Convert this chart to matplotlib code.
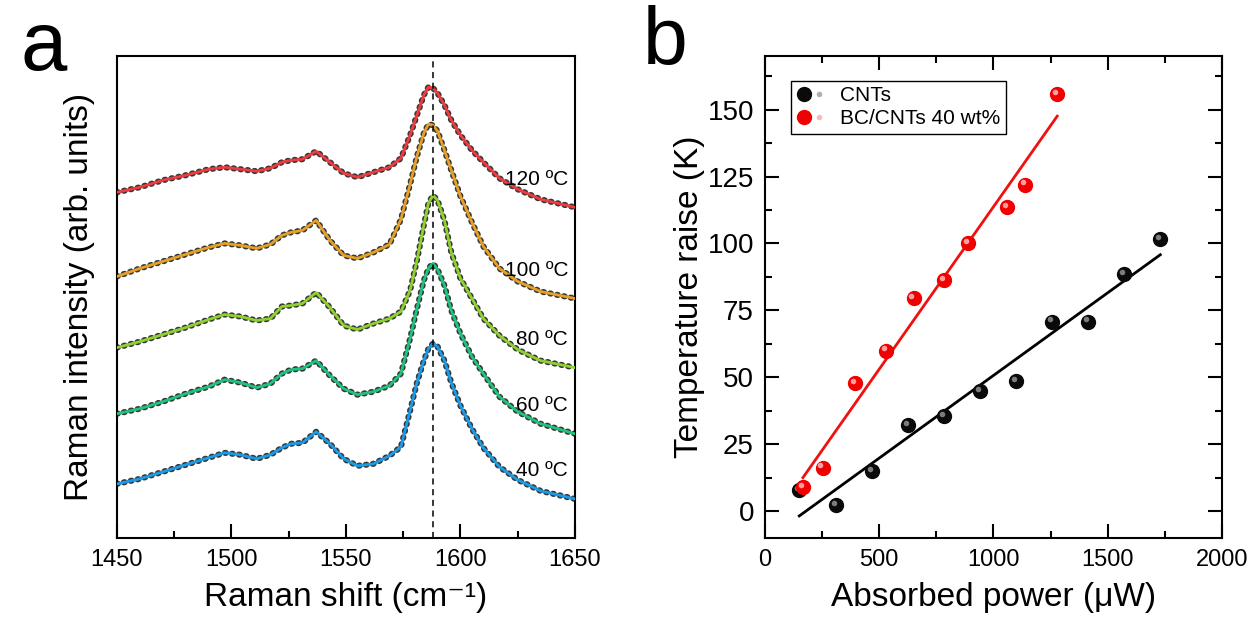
import numpy as np
import matplotlib.pyplot as plt
from matplotlib import transforms
from matplotlib.ticker import MultipleLocator
from matplotlib.legend_handler import HandlerTuple

plt.rcParams['font.family'] = ['Liberation Sans', 'DejaVu Sans']

# Raman spectra (G band region), offset stacked, arb. units
shift = [1450, 1460, 1470, 1480, 1490, 1497, 1504, 1511, 1517, 1522, 1526, 1531,
         1537, 1543, 1549, 1555, 1562, 1569, 1574, 1578, 1581, 1584, 1586, 1588,
         1590, 1593, 1596, 1600, 1605, 1610, 1617, 1625, 1635, 1650]
spec_40 = [54, 59, 66, 73, 80, 85, 83, 79, 83, 90, 94, 95, 106, 94, 79, 72, 74, 82,
           91, 127, 155, 177, 189, 194, 191, 177, 155, 132, 109, 90, 71, 58, 47, 39]
spec_60 = [124, 129, 136, 144, 151, 158, 155, 150, 154, 164, 168, 169, 177, 162, 149,
           143, 146, 152, 164, 199, 229, 257, 269, 274, 268, 252, 227, 204, 181, 164,
           141, 126, 114, 104]
spec_80 = [190, 196, 203, 210, 218, 223, 221, 217, 219, 231, 232, 234, 245, 230, 212,
           208, 214, 219, 226, 247, 277, 312, 334, 342, 337, 317, 285, 259, 239, 219,
           202, 188, 177, 170]
spec_100 = [261, 269, 276, 283, 290, 294, 292, 289, 293, 302, 305, 307, 317, 297, 282,
            279, 285, 293, 318, 353, 381, 404, 413, 412, 406, 387, 367, 341, 315, 291,
            269, 256, 246, 239]
spec_120 = [345, 350, 357, 362, 368, 370, 368, 366, 369, 375, 377, 378, 386, 375, 364,
            360, 365, 370, 379, 402, 422, 442, 450, 449, 444, 432, 417, 402, 387, 375,
            359, 348, 338, 330]
temp_labels = ['40 ºC', '60 ºC', '80 ºC', '100 ºC', '120 ºC']
g_peak = 1588

# Temperature raise vs absorbed power
cnt_power = [150, 311, 470, 627, 784, 943, 1099, 1256, 1414, 1572, 1730]
cnt_dT = [7.9, 2.2, 15.0, 32.1, 35.6, 44.9, 48.6, 70.8, 70.8, 88.6, 101.5]
bc_power = [166, 252, 395, 530, 650, 785, 890, 1060, 1138, 1279]
bc_dT = [9.0, 16.3, 47.8, 60.0, 79.5, 86.3, 100.2, 113.7, 122.0, 155.9]

line_colors = ['#1a9be8', '#1dc47e', '#8ed22e', '#e6a125', '#ee3b3f']

fig = plt.figure(figsize=(12.51, 6.19), dpi=100)
ax1 = fig.add_axes([0.0935, 0.1309, 0.3661, 0.7786])
ax2 = fig.add_axes([0.6115, 0.1309, 0.3653, 0.7786])

# ---- panel a ----
spectra = [spec_40, spec_60, spec_80, spec_100, spec_120]
for spec, col, lab in zip(spectra, line_colors, temp_labels):
    ax1.plot(shift, spec, color='#222222', lw=4.4, ls=(0, (0.15, 1.0)),
             dash_capstyle='round', alpha=0.9, zorder=2)
    ax1.plot(shift, spec, color=col, lw=2.0, zorder=3)
    ax1.text(1647, spec[-1] + 28, lab, ha='right', va='center', fontsize=15)

ax1.axvline(g_peak, color='k', ls=(0, (4, 3)), lw=1.1, zorder=4)
ax1.set_xlim(1450, 1650)
ax1.set_ylim(0, 481)
ax1.set_yticks([])
ax1.xaxis.set_major_locator(MultipleLocator(50))
ax1.xaxis.set_minor_locator(MultipleLocator(25))
ax1.tick_params(axis='x', which='both', direction='in', labelsize=17)
ax1.tick_params(axis='x', which='major', length=10, width=1.5, pad=8)
ax1.tick_params(axis='x', which='minor', length=5, width=1.5)
ax1.set_xlabel('Raman shift (cm⁻¹)', fontsize=24, labelpad=8)
ax1.set_ylabel('Raman intensity (arb. units)', fontsize=24, labelpad=16)
for sp in ax1.spines.values():
    sp.set_linewidth(1.5)

# ---- panel b ----
hl = transforms.offset_copy(ax2.transData, fig=fig, x=-1.6, y=1.6, units='points')

fit_c = np.polyfit(cnt_power, cnt_dT, 1)
fit_b = np.polyfit(bc_power, bc_dT, 1)
xc = np.array([min(cnt_power), max(cnt_power)])
xb = np.array([min(bc_power), max(bc_power)])
ax2.plot(xc, np.polyval(fit_c, xc), color='k', lw=2, zorder=2)
ax2.plot(xb, np.polyval(fit_b, xb), color='#f01010', lw=2, zorder=2)

c1, = ax2.plot(cnt_power, cnt_dT, 'o', ms=10, color='#0a0a0a', zorder=3)
c2, = ax2.plot(cnt_power, cnt_dT, 'o', ms=4, color='#9a9a9a', mew=0, alpha=0.8,
               transform=hl, zorder=4)
r1, = ax2.plot(bc_power, bc_dT, 'o', ms=10, color='#f00000', zorder=5)
r2, = ax2.plot(bc_power, bc_dT, 'o', ms=4, color='#ffb0b0', mew=0, alpha=0.9,
               transform=hl, zorder=6)

leg = ax2.legend([(c1, c2), (r1, r2)], ['CNTs', 'BC/CNTs 40 wt%'],
                 handler_map={tuple: HandlerTuple(ndivide=None, pad=0)},
                 loc='upper left', bbox_to_anchor=(0.058, 0.948), fontsize=15,
                 frameon=True, fancybox=False, edgecolor='k', framealpha=1,
                 handlelength=1.4, handletextpad=0.7, borderpad=0.25,
                 labelspacing=0.2, borderaxespad=0)
leg.get_frame().set_linewidth(1.0)

ax2.set_xlim(0, 2000)
ax2.set_ylim(-10, 170)
ax2.xaxis.set_major_locator(MultipleLocator(500))
ax2.xaxis.set_minor_locator(MultipleLocator(250))
ax2.yaxis.set_major_locator(MultipleLocator(25))
ax2.yaxis.set_minor_locator(MultipleLocator(12.5))
ax2.tick_params(which='both', direction='in', top=True, right=True)
ax2.tick_params(axis='x', labelsize=17)
ax2.tick_params(axis='y', labelsize=20)
ax2.tick_params(which='major', length=10, width=1.5, pad=8)
ax2.tick_params(which='minor', length=5, width=1.5)
ax2.set_xlabel('Absorbed power (μW)', fontsize=24, labelpad=8)
ax2.set_ylabel('Temperature raise (K)', fontsize=24, labelpad=2)
for sp in ax2.spines.values():
    sp.set_linewidth(1.5)

fig.text(0.035, 0.922, 'a', fontsize=60, ha='center', va='center')
fig.text(0.532, 0.93, 'b', fontsize=58, ha='center', va='center')

fig.savefig('out.png', dpi=100)
